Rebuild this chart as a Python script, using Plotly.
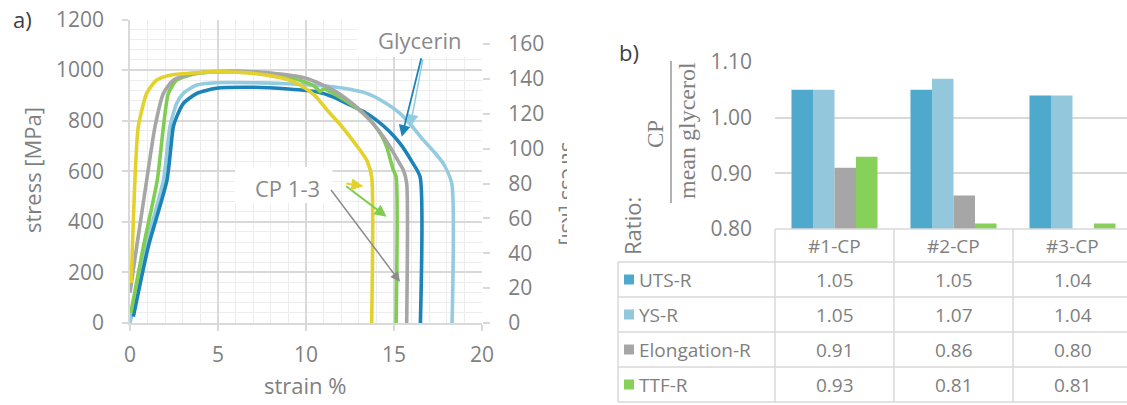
import plotly.graph_objects as go

W, H = 1127, 405
FONT = "Open Sans"
TXT = "#7f7f7f"
GRID = "#d9d9d9"
MINOR = "#ededed"

# ---------------- panel a: stress-strain curves (strain %, stress MPa) ----------------
lightblue_strain = [0.0, 0.9, 1.9, 2.27, 2.65, 3.03, 3.8, 4.9, 7.0, 9.0, 10.5, 11.55, 12.5, 13.45, 14.4, 15.34, 16.0, 16.67, 17.3, 17.8, 18.28, 18.3]
lightblue_stress = [0, 302, 565, 776, 868, 908, 941, 950, 950, 946, 940, 934, 924, 908, 875, 829, 780, 723, 675, 631, 552, 0]

darkblue_strain = [0.19, 1.04, 2.1, 2.46, 2.65, 3.03, 3.8, 4.9, 7.0, 9.0, 10.6, 11.6, 12.5, 13.3, 14.0, 14.7, 15.34, 16.0, 16.48, 16.5]
darkblue_stress = [25, 302, 565, 776, 815, 868, 908, 928, 932, 925, 914, 892, 862, 835, 802, 760, 710, 640, 578, 0]

green_strain = [0.05, 0.76, 1.55, 1.9, 2.18, 2.65, 3.8, 6.0, 8.0, 9.66, 10.5, 10.8, 11.0, 11.8, 12.5, 13.2, 13.8, 14.3, 14.58, 14.96, 15.12, 15.12]
green_stress = [40, 302, 565, 776, 908, 960, 987, 995, 985, 960, 935, 915, 925, 898, 868, 832, 789, 740, 697, 605, 578, 0]

gray_strain = [0.0, 0.38, 0.95, 1.42, 1.9, 2.46, 3.2, 4.0, 6.0, 8.0, 10.04, 11.55, 12.6, 13.45, 14.2, 14.77, 15.2, 15.53, 15.72, 15.72]
gray_stress = [120, 302, 565, 776, 908, 960, 980, 990, 995, 988, 967, 921, 870, 816, 755, 697, 645, 605, 552, 0]

yellow_strain = [0.07, 0.28, 0.47, 0.95, 1.5, 2.27, 3.5, 4.9, 6.5, 7.77, 9.0, 9.66, 10.5, 11.2, 12.0, 12.5, 13.0, 13.45, 13.73, 13.73]
yellow_stress = [158, 565, 776, 908, 960, 980, 988, 993, 990, 980, 962, 941, 900, 842, 780, 736, 690, 644, 578, 0]

curves = [
    (lightblue_strain, lightblue_stress, "#93cbe0"),
    (darkblue_strain, darkblue_stress, "#1c83b9"),
    (green_strain, green_stress, "#7fcd52"),
    (gray_strain, gray_stress, "#a6a6a6"),
    (yellow_strain, yellow_stress, "#e3d12c"),
]

MPA_PER_KSI = 6.89476
ksi_ticks = [0, 20, 40, 60, 80, 100, 120, 140, 160]

# ---------------- panel b: CP / mean glycerol ratios ----------------
categories = ["#1-CP", "#2-CP", "#3-CP"]
uts_r = [1.05, 1.05, 1.04]
ys_r = [1.05, 1.07, 1.04]
elong_r = [0.91, 0.86, 0.80]
ttf_r = [0.93, 0.81, 0.81]
series_names = ["UTS-R", "YS-R", "Elongation-R", "TTF-R"]
series_values = [uts_r, ys_r, elong_r, ttf_r]
series_colors = ["#4fa9cd", "#92c7dc", "#a6a6a6", "#87d059"]


def px(x):
    return x / W


def py(y):
    return 1 - y / H


def label(text, x, y, size, color=TXT, family=FONT, **kw):
    """Free text placed in page pixels, centred on (x, y) unless told otherwise."""
    d = dict(text=text, x=px(x), y=py(y), xref="paper", yref="paper", showarrow=False,
             xanchor="center", yanchor="middle",
             font=dict(family=family, size=size, color=color))
    d.update(kw)
    return d


fig = go.Figure()

for xs, ys, c in curves:
    fig.add_trace(go.Scatter(x=xs, y=ys, mode="lines",
                             line=dict(color=c, width=3.6, shape="spline", smoothing=0.6),
                             xaxis="x", yaxis="y", showlegend=False, hoverinfo="skip"))

# invisible trace so the ksi axis is drawn
fig.add_trace(go.Scatter(x=[0], y=[0], mode="markers", marker=dict(opacity=0),
                         xaxis="x", yaxis="y2", showlegend=False, hoverinfo="skip"))

for name, vals, c in zip(series_names, series_values, series_colors):
    fig.add_trace(go.Bar(x=categories, y=vals, name=name, marker=dict(color=c, line=dict(width=0)),
                         xaxis="x2", yaxis="y3", showlegend=False, hoverinfo="skip"))

# panel b geometry
B_LEFT, B_PITCH = 775, 119.0
B_RIGHT_EDGE = B_LEFT + 3 * B_PITCH

tick_font = dict(family=FONT, size=21, color=TXT)

fig.update_layout(
    width=W, height=H, margin=dict(l=0, r=0, t=0, b=0, autoexpand=False),
    paper_bgcolor="white", plot_bgcolor="rgba(0,0,0,0)",
    font=dict(family=FONT, color=TXT),
    barmode="group", bargap=0.277, bargroupgap=0,
    xaxis=dict(domain=[px(130), px(482)], range=[0, 20], dtick=5, tick0=0,
               showgrid=True, gridcolor=GRID, gridwidth=1.5,
               minor=dict(dtick=1, showgrid=True, gridcolor=MINOR, gridwidth=1),
               showline=True, linecolor=GRID, linewidth=1.5,
               ticks="outside", ticklen=6, tickcolor=GRID, tickwidth=1.5,
               tickfont=tick_font, ticklabelstandoff=6, zeroline=False, anchor="y",
               automargin=False),
    yaxis=dict(domain=[py(323), py(19.5)], range=[0, 1200], dtick=200, tick0=0,
               showgrid=True, gridcolor=GRID, gridwidth=1.5,
               minor=dict(dtick=40, showgrid=True, gridcolor=MINOR, gridwidth=1),
               showline=True, linecolor=GRID, linewidth=1.5,
               ticks="outside", ticklen=6, tickcolor=GRID, tickwidth=1.5,
               tickfont=tick_font, ticklabelstandoff=14, zeroline=False, anchor="x",
               automargin=False),
    yaxis2=dict(overlaying="y", side="right", anchor="x",
                range=[0, 1200 / MPA_PER_KSI], tickvals=ksi_ticks,
                showgrid=False, showline=False, zeroline=False,
                ticks="outside", ticklen=7, tickcolor=GRID, tickwidth=1.5,
                tickfont=tick_font, ticklabelstandoff=14, automargin=False),
    xaxis2=dict(domain=[px(B_LEFT), 1.0], range=[-0.5, 2.5 - (B_RIGHT_EDGE - W) / B_PITCH],
                showticklabels=False, showgrid=False, showline=False, zeroline=False,
                anchor="y3", type="category", automargin=False),
    yaxis3=dict(domain=[py(229), py(62)], range=[0.80, 1.10], dtick=0.10, tick0=0.8,
                tickformat=".2f", showgrid=True, gridcolor=GRID, gridwidth=1.5,
                showline=False, zeroline=False, ticks="", tickfont=tick_font,
                ticklabelstandoff=22, anchor="x2", automargin=False),
)

shapes = []
annotations = []

# white boxes behind the call-out labels
shapes.append(dict(type="rect", xref="x", yref="y", x0=12.9, x1=20.25, y0=1052, y1=1260,
                   fillcolor="white", line=dict(width=0), layer="above"))
shapes.append(dict(type="rect", xref="x", yref="y", x0=5.97, x1=11.5, y0=474, y1=617,
                   fillcolor="white", line=dict(width=0), layer="above"))

annotations.append(dict(text="Glycerin", x=16.5, y=1118, xref="x", yref="y", showarrow=False,
                        xanchor="center", yanchor="middle",
                        font=dict(family=FONT, size=22, color="#8a8a8a")))
annotations.append(dict(text="CP 1-3", x=8.95, y=534, xref="x", yref="y", showarrow=False,
                        xanchor="center", yanchor="middle",
                        font=dict(family=FONT, size=22, color="#8a8a8a")))

# arrows: (tail x, tail y, head x, head y, colour, width, head size)
arrows = [
    (16.65, 1047, 15.92, 776, "#93cbe0", 1.5, 1.6),
    (16.57, 1053, 15.44, 736, "#1c83b9", 1.8, 1.3),
    (11.36, 532, 15.34, 163, "#8c8c8c", 1.5, 1.3),
    (12.2, 545, 14.58, 420, "#7fcd52", 2.0, 1.2),
    (12.2, 552, 13.26, 541, "#e3d12c", 2.0, 1.2),
]
for tx, ty, hx, hy, c, w, s in arrows:
    annotations.append(dict(text="", x=hx, y=hy, ax=tx, ay=ty, xref="x", yref="y",
                            axref="x", ayref="y", showarrow=True, arrowhead=2,
                            arrowsize=s, arrowwidth=w, arrowcolor=c))

annotations.append(label("stress [MPa]", 32, 170, 22, textangle=-90))
annotations.append(label("strain %", 306, 385, 22))
annotations.append(label("stress [ksi]", 562, 193, 21, textangle=90, height=11, valign="bottom"))
annotations.append(label("a)", 22, 19, 22, color="#404040"))
annotations.append(label("b)", 629, 52, 22, color="#404040"))

# ratio label: "Ratio:  CP / mean glycerol"
annotations.append(label("Ratio:", 632, 226, 22, textangle=-90))
annotations.append(label("CP", 656, 134, 23, family="Liberation Serif", textangle=-90))
annotations.append(label("mean glycerol", 687, 131, 24, family="Liberation Serif", textangle=-90))
shapes.append(dict(type="line", xref="paper", yref="paper", x0=px(671), x1=px(671),
                   y0=py(61), y1=py(203), line=dict(color=TXT, width=1.2)))

# data table below the bars
T_LEFT, T_TOP, HEAD_BOT, ROW_H = 618, 229, 262, 35.0
n_rows = len(series_names)
T_BOT = HEAD_BOT + n_rows * ROW_H
tline = dict(color=GRID, width=1.5)
shapes.append(dict(type="line", xref="paper", yref="paper", x0=px(B_LEFT), x1=1,
                   y0=py(T_TOP), y1=py(T_TOP), line=tline))
for r in range(n_rows + 1):
    yy = HEAD_BOT + r * ROW_H
    shapes.append(dict(type="line", xref="paper", yref="paper", x0=px(T_LEFT), x1=1,
                       y0=py(yy), y1=py(yy), line=tline))
shapes.append(dict(type="line", xref="paper", yref="paper", x0=px(T_LEFT), x1=px(T_LEFT),
                   y0=py(HEAD_BOT), y1=py(T_BOT), line=tline))
for k in range(len(categories)):
    xx = B_LEFT + k * B_PITCH
    shapes.append(dict(type="line", xref="paper", yref="paper", x0=px(xx), x1=px(xx),
                       y0=py(T_TOP), y1=py(T_BOT), line=tline))

table_font = dict(family=FONT, size=19, color=TXT)
for k, cat in enumerate(categories):
    annotations.append(dict(text=cat, x=cat, y=py((T_TOP + HEAD_BOT) / 2), xref="x2",
                            yref="paper", showarrow=False, xanchor="center", yanchor="middle",
                            font=table_font))
for r, (name, vals, c) in enumerate(zip(series_names, series_values, series_colors)):
    yc = HEAD_BOT + (r + 0.5) * ROW_H
    shapes.append(dict(type="rect", xref="paper", yref="paper", x0=px(624), x1=px(634),
                       y0=py(yc + 5), y1=py(yc - 5), fillcolor=c, line=dict(width=0)))
    annotations.append(label(name, 637, yc, 19, xanchor="left"))
    for cat, v in zip(categories, vals):
        annotations.append(dict(text=f"{v:.2f}", x=cat, y=py(yc), xref="x2", yref="paper",
                                showarrow=False, xanchor="center", yanchor="middle",
                                font=table_font))

fig.update_layout(shapes=shapes, annotations=annotations)
fig.write_html("out.html")
